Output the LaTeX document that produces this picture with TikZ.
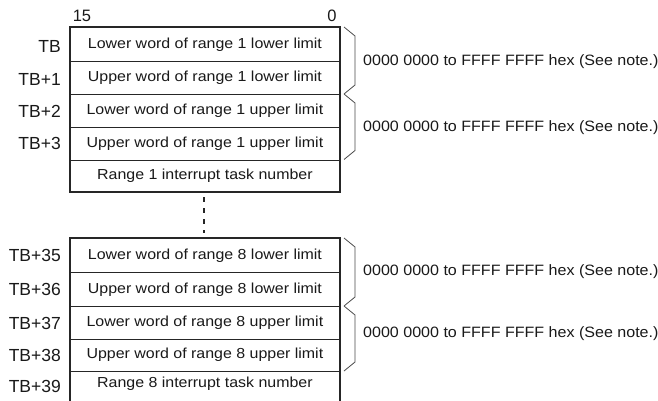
\documentclass[tikz,border=0pt]{standalone}
\usepackage{fontspec}
\usetikzlibrary{calc}
\setmainfont{Liberation Sans}
\newfontfamily\bodyfont[FakeStretch=1.1]{Liberation Sans}
\newfontfamily\rngfont[FakeStretch=1.07]{Liberation Sans}
\newfontfamily\lblfont{Liberation Sans}
\begin{document}
\begin{tikzpicture}[x=1pt,y=-1pt,
  rowbox/.style={draw=black!85, line width=0.8pt, anchor=north west, inner sep=0pt,
    minimum width=269pt, font=\bodyfont\fontsize{14.5}{17}\selectfont,
    text height=10.5pt, text depth=3pt, text=black!90},
  outerbox/.style={draw=black!85, line width=1.7pt},
  addr/.style={anchor=east, inner sep=0pt, font=\lblfont\fontsize{17.5}{20}\selectfont,
    text height=12.5pt, text depth=0pt, text=black!90},
  bitnum/.style={inner sep=0pt, font=\lblfont\fontsize{16.5}{19}\selectfont, text=black!90},
  rangetxt/.style={anchor=west, inner sep=0pt, font=\rngfont\fontsize{15}{18}\selectfont,
    text height=11pt, text depth=3pt, text=black!90},
  brk/.style={draw=black!70, line width=0.8pt, line join=miter},
  dots/.style={draw=black!85, line width=2pt, dash pattern=on 5pt off 6pt}
]
\useasboundingbox (0,0) rectangle (658,400);
\clip (0,0) rectangle (658,400);
\fill[white] (0,0) rectangle (658,400);

% bit numbers
\node[bitnum] (b15) at (82,15.5) {15};
\node[bitnum] (b0) at (332,15.5) {0};

% top block
\node[rowbox, minimum height=34pt] (a1) at (70,27) {Lower word of range 1 lower limit};
\node[rowbox, minimum height=33pt] (a2) at (70,61) {Upper word of range 1 lower limit};
\node[rowbox, minimum height=33pt] (a3) at (70,94) {Lower word of range 1 upper limit};
\node[rowbox, minimum height=32.5pt] (a4) at (70,127) {Upper word of range 1 upper limit};
\node[rowbox, minimum height=32pt] (a5) at (70,159.5) {Range 1 interrupt task number};
\draw[outerbox] (a1.north west) rectangle (a5.south east);

\node[addr] (la1) at (61,46.5) {TB};
\node[addr] (la2) at (61,79) {TB+1};
\node[addr] (la3) at (61,111) {TB+2};
\node[addr] (la4) at (61,143.5) {TB+3};

% bottom block
\node[rowbox, minimum height=34pt] (c1) at (70,238) {Lower word of range 8 lower limit};
\node[rowbox, minimum height=34pt] (c2) at (70,272) {Upper word of range 8 lower limit};
\node[rowbox, minimum height=32.5pt] (c3) at (70,306) {Lower word of range 8 upper limit};
\node[rowbox, minimum height=32.5pt] (c4) at (70,338.5) {Upper word of range 8 upper limit};
\node[rowbox, draw=none, minimum height=24pt] (c5) at (70,371) {Range 8 interrupt task number};
\draw[outerbox] (c1.north west) rectangle ($(c5.south east)+(0,20)$);

\node[addr] (lc1) at (61,255.5) {TB+35};
\node[addr] (lc2) at (61,289.5) {TB+36};
\node[addr] (lc3) at (61,323) {TB+37};
\node[addr] (lc4) at (61,355.5) {TB+38};
\node[addr] (lc5) at (61,386) {TB+39};

% ellipsis
\coordinate (d1) at (204,197);
\coordinate (d2) at (204,233);
\draw[dots] (d1) -- (d2);

% brackets
\draw[brk] (344,27) -- (355,36) -- (355,85) -- (344,94);
\draw[brk] (344,94) -- (355,103) -- (355,150.5) -- (344,159.5);
\draw[brk] (344,238) -- (355,247) -- (355,297) -- (344,306);
\draw[brk] (344,306) -- (355,315) -- (355,362) -- (344,371);

\node[rangetxt] (r1) at (363,61) {0000 0000 to FFFF FFFF hex (See note.)};
\node[rangetxt] (r2) at (363,127) {0000 0000 to FFFF FFFF hex (See note.)};
\node[rangetxt] (r3) at (363,271) {0000 0000 to FFFF FFFF hex (See note.)};
\node[rangetxt] (r4) at (363,333) {0000 0000 to FFFF FFFF hex (See note.)};
\end{tikzpicture}
\end{document}
